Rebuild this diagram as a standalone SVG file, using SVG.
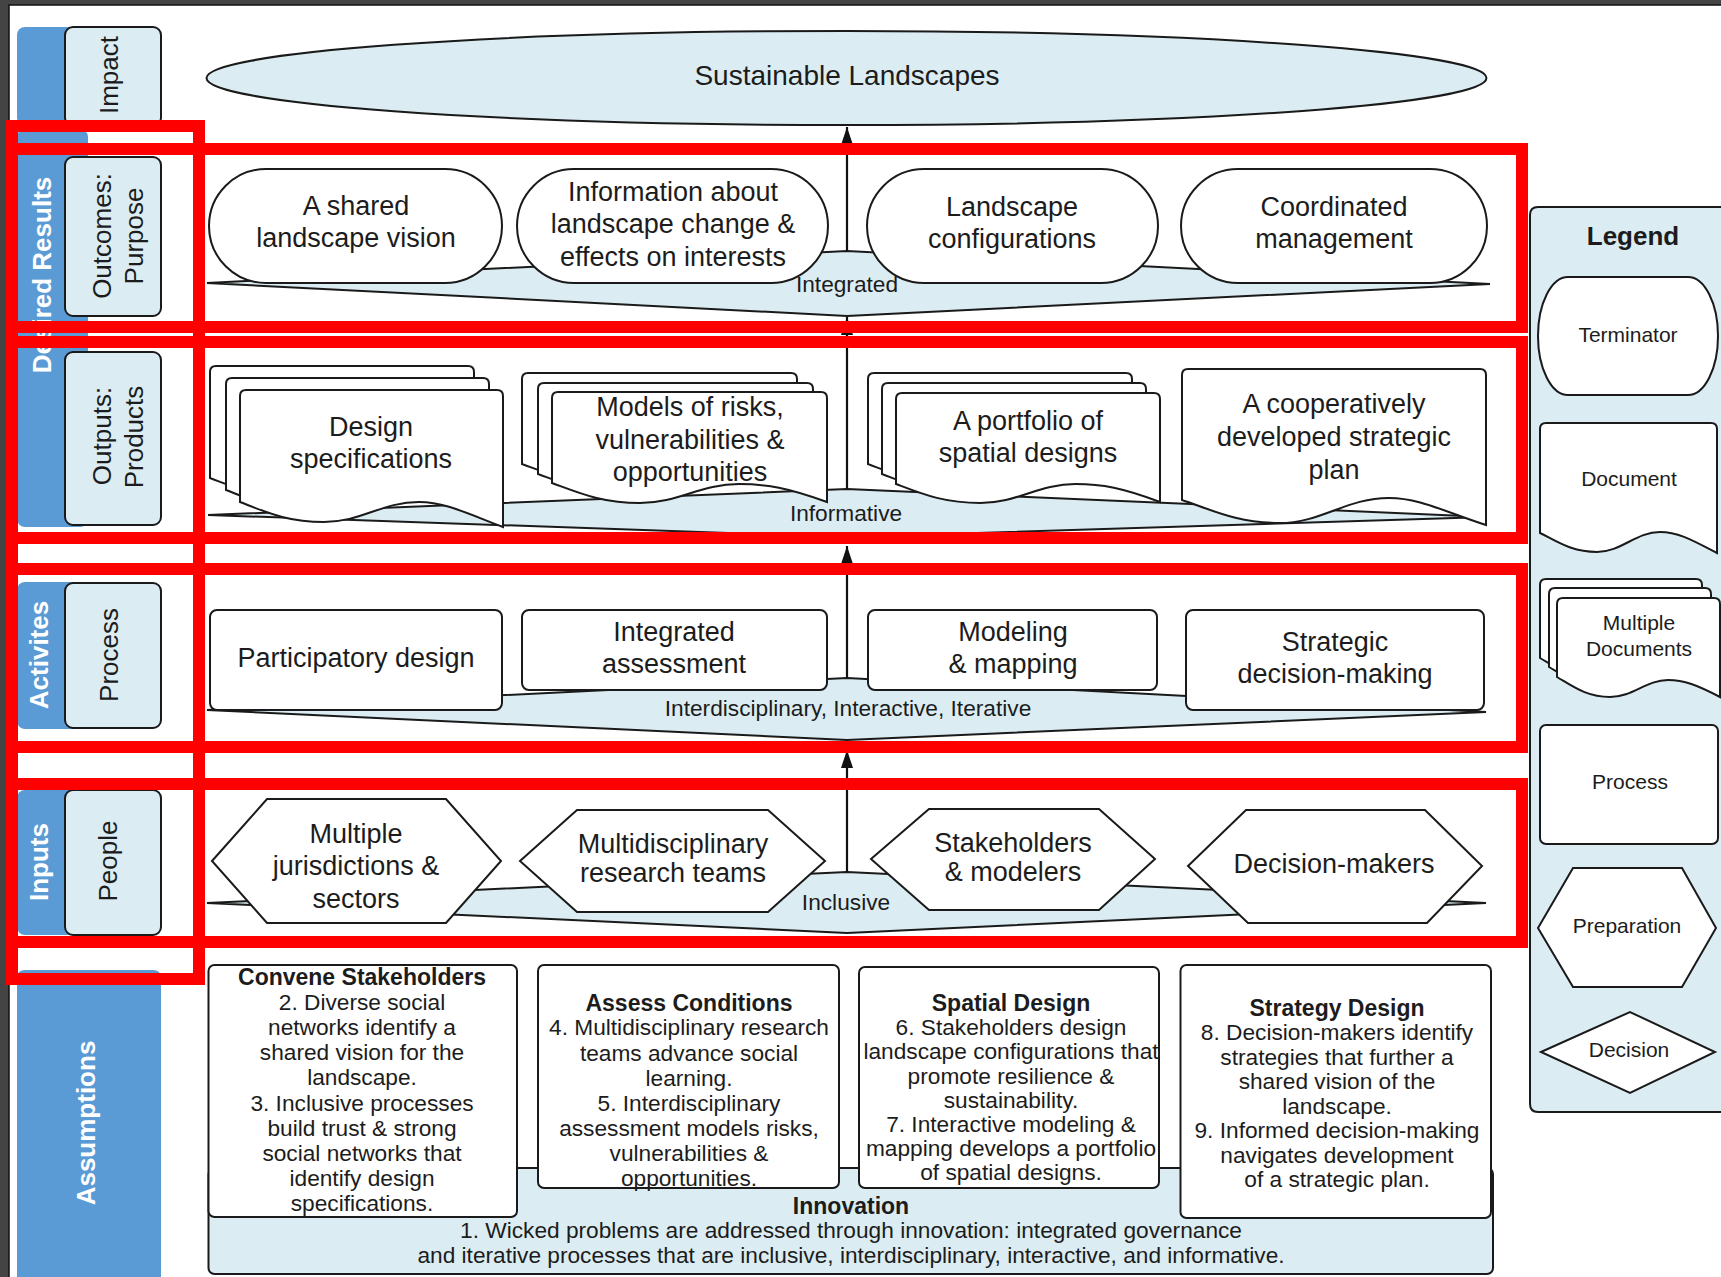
<svg xmlns="http://www.w3.org/2000/svg" width="1721" height="1277" viewBox="0 0 1721 1277">
<style>
text{font-family:"Liberation Sans",Arial,sans-serif;fill:#1c1c1c;text-anchor:middle}
.n{font-size:27px}
.b{font-size:22.7px}
.bb{font-size:23px;font-weight:bold}
.lg{font-size:21px}
.side{font-size:26px}
.sw{font-size:26px;font-weight:bold;fill:#ffffff}
.shape{fill:#ffffff;stroke:#1a1a1a;stroke-width:2}
.lb{fill:#dbedf3;stroke:#1a1a1a;stroke-width:2}
.lane{fill:#5b9bd5}
.band{fill:#dbedf3;stroke:#1a1a1a;stroke-width:2;stroke-linejoin:miter}
.con{stroke:#111;stroke-width:2.2;fill:none}
.red{fill:none;stroke:#ff0000;stroke-width:12}
</style>
<defs>
<marker id="arr" viewBox="0 0 18 12" refX="18" refY="6" markerWidth="18" markerHeight="12" markerUnits="userSpaceOnUse" orient="auto">
<path d="M0,0 L18,6 L0,12 Z" fill="#111"/>
</marker>
</defs>

<rect x="0" y="0" width="1721" height="1277" fill="#444"/>
<rect x="9" y="5" width="1714" height="1274" fill="#ffffff" stroke="#111" stroke-width="1.5"/>

<!-- lanes -->
<g id="lane-impact">
<rect class="lane" x="17" y="27" width="71" height="99" rx="8"/>
<rect class="lb" x="65" y="27" width="96" height="99" rx="8"/>
<text class="side" transform="translate(118,75) rotate(-90)">Impact</text>
</g>
<g id="lane-desired">
<rect class="lane" x="17" y="129" width="71" height="398" rx="8"/>
<text class="sw" transform="translate(51,275) rotate(-90)">Desired Results</text>
<rect class="lb" x="65" y="157" width="96" height="159" rx="8"/>
<text class="side" transform="translate(111,236) rotate(-90)">Outcomes:</text>
<text class="side" transform="translate(143,236) rotate(-90)">Purpose</text>
<rect class="lb" x="65" y="352" width="96" height="173" rx="8"/>
<text class="side" transform="translate(111,436) rotate(-90)">Outputs:</text>
<text class="side" transform="translate(143,437) rotate(-90)">Products</text>
</g>
<g id="lane-activities">
<rect class="lane" x="17" y="582" width="71" height="147" rx="8"/>
<text class="sw" transform="translate(48,655) rotate(-90)">Activites</text>
<rect class="lb" x="65" y="583" width="96" height="145" rx="8"/>
<text class="side" transform="translate(118,655) rotate(-90)">Process</text>
</g>
<g id="lane-inputs">
<rect class="lane" x="17" y="790" width="71" height="145" rx="8"/>
<text class="sw" transform="translate(48,862) rotate(-90)">Inputs</text>
<rect class="lb" x="65" y="790" width="96" height="145" rx="8"/>
<text class="side" transform="translate(117,861) rotate(-90)">People</text>
</g>
<g id="lane-assumptions">
<path class="lane" d="M17,1285 L17,978 Q17,970 25,970 L153,970 Q161,970 161,978 L161,1285 Z"/>
<text class="sw" transform="translate(95,1123) rotate(-90)">Assumptions</text>
</g>

<!-- impact -->
<g id="impact">
<ellipse class="lb" cx="846.5" cy="78" rx="640" ry="47"/>
<text class="n" style="font-size:28px" x="847" y="85">Sustainable Landscapes</text>
</g>

<!-- bands -->
<g id="bands">
<path class="band" d="M207,283 L847,251 L1490,284 L847,316 Z"/>
<path class="band" d="M208,515 L847,489 L1487,517 L847,537 Z"/>
<path class="band" d="M207,710 L847,678 L1486,712 L847,740 Z"/>
<path class="band" d="M207,903 L847,872 L1486,903 L847,933 Z"/>
</g>

<!-- connectors -->
<g id="connectors">
<line class="con" x1="847" y1="251" x2="847" y2="127" marker-end="url(#arr)"/>
<line class="con" x1="847" y1="489" x2="847" y2="317" marker-end="url(#arr)"/>
<line class="con" x1="847" y1="678" x2="847" y2="546" marker-end="url(#arr)"/>
<line class="con" x1="847" y1="872" x2="847" y2="750" marker-end="url(#arr)"/>
</g>

<!-- outcomes row -->
<g id="out-vision">
<rect class="shape" x="209" y="169" width="293" height="114" rx="57"/>
<text class="n" x="356" y="214.5">A shared</text>
<text class="n" x="356" y="246.5">landscape vision</text>
</g>
<g id="out-information">
<rect class="shape" x="517" y="169" width="311" height="114" rx="57"/>
<text class="n" x="673" y="200.5">Information about</text>
<text class="n" x="673" y="233">landscape change &amp;</text>
<text class="n" x="673" y="265.5">effects on interests</text>
</g>
<g id="out-configurations">
<rect class="shape" x="867" y="169" width="291" height="114" rx="57"/>
<text class="n" x="1012" y="215.5">Landscape</text>
<text class="n" x="1012" y="247.5">configurations</text>
</g>
<g id="out-management">
<rect class="shape" x="1181" y="169" width="306" height="114" rx="57"/>
<text class="n" x="1334" y="215.5">Coordinated</text>
<text class="n" x="1334" y="247.5">management</text>
</g>
<text class="b" x="847" y="292">Integrated</text>

<!-- outputs row -->
<g id="prod-design">
<path class="shape" d="M210,478 L210,372 Q210,366 216,366 L468,366 Q474,366 474,372 L474,503 C437,489 416,478 389.5,478 C352.6,478 331.4,498 294.5,498 C257.5,498 236.4,488 210,478 Z"/>
<path class="shape" d="M226,490 L226,384 Q226,378 232,378 L483,378 Q489,378 489,384 L489,515 C452,501 431,490 405,490 C368,490 347,510 310,510 C273,510 252,500 226,490 Z"/>
<path class="shape" d="M240,502 L240,396 Q240,390 246,390 L497,390 Q503,390 503,396 L503,527 C466,513 445,502 419,502 C382,502 361,522 324,522 C287,522 266,512 240,502 Z"/>
<text class="n" x="371" y="436">Design</text>
<text class="n" x="371" y="468">specifications</text>
</g>
<g id="prod-models">
<path class="shape" d="M522,464 L522,379 Q522,373 528,373 L791,373 Q797,373 797,379 L797,483 C758.5,469 736.5,465 709,465 C670.5,465 648.5,484 610,484 C571.5,484 549.5,474 522,464 Z"/>
<path class="shape" d="M538,474 L538,389 Q538,383 544,383 L807,383 Q813,383 813,389 L813,493 C774.5,479 752.5,475 725,475 C686.5,475 664.5,494 626,494 C587.5,494 565.5,484 538,474 Z"/>
<path class="shape" d="M552,483 L552,398 Q552,392 558,392 L821,392 Q827,392 827,398 L827,502 C788.5,488 766.5,484 739,484 C700.5,484 678.5,503 640,503 C601.5,503 579.5,493 552,483 Z"/>
<text class="n" x="690" y="415.5">Models of risks,</text>
<text class="n" x="690" y="448.5">vulnerabilities &amp;</text>
<text class="n" x="690" y="480.5">opportunities</text>
</g>
<g id="prod-portfolio">
<path class="shape" d="M868,464 L868,379 Q868,373 874,373 L1126,373 Q1132,373 1132,379 L1132,483 C1095,469 1074,465 1047.5,465 C1010.6,465 989.4,484 952.5,484 C915.5,484 894.4,474 868,464 Z"/>
<path class="shape" d="M882,474 L882,389 Q882,383 888,383 L1140,383 Q1146,383 1146,389 L1146,493 C1109,479 1088,475 1061.5,475 C1024.6,475 1003.4,494 966.5,494 C929.5,494 908.4,484 882,474 Z"/>
<path class="shape" d="M896,484 L896,399 Q896,393 902,393 L1154,393 Q1160,393 1160,399 L1160,502 C1123,488 1102,484 1075.5,484 C1038.6,484 1017.4,503 980.5,503 C943.5,503 922.4,494 896,484 Z"/>
<text class="n" x="1028" y="429.5">A portfolio of</text>
<text class="n" x="1028" y="461.5">spatial designs</text>
</g>
<g id="prod-plan">
<path class="shape" d="M1182,500 L1182,375 Q1182,369 1188,369 L1480,369 Q1486,369 1486,375 L1486,525 C1443,511 1419,498 1389,498 C1346,498 1322,523 1279,523 C1237,523 1212,510 1182,500 Z"/>
<text class="n" x="1334" y="413">A cooperatively</text>
<text class="n" x="1334" y="446">developed strategic</text>
<text class="n" x="1334" y="479">plan</text>
</g>
<text class="b" x="846" y="521">Informative</text>

<!-- process row -->
<g id="proc-participatory">
<rect class="shape" x="210" y="610" width="292" height="100" rx="7"/>
<text class="n" x="356" y="666.5">Participatory design</text>
</g>
<g id="proc-assessment">
<rect class="shape" x="522" y="610" width="305" height="80" rx="7"/>
<text class="n" x="674" y="640.5">Integrated</text>
<text class="n" x="674" y="672.5">assessment</text>
</g>
<g id="proc-modeling">
<rect class="shape" x="868" y="610" width="289" height="80" rx="7"/>
<text class="n" x="1013" y="640.5">Modeling</text>
<text class="n" x="1013" y="672.5">&amp; mapping</text>
</g>
<g id="proc-strategic">
<rect class="shape" x="1186" y="610" width="298" height="100" rx="7"/>
<text class="n" x="1335" y="650.5">Strategic</text>
<text class="n" x="1335" y="682.5">decision-making</text>
</g>
<text class="b" x="848" y="716">Interdisciplinary, Interactive, Iterative</text>

<!-- people row -->
<g id="in-jurisdictions">
<path class="shape" d="M212,861 L267,799 L446,799 L501,861 L446,923 L267,923 Z"/>
<text class="n" x="356" y="842.5">Multiple</text>
<text class="n" x="356" y="874.5">jurisdictions &amp;</text>
<text class="n" x="356" y="907.5">sectors</text>
</g>
<g id="in-research">
<path class="shape" d="M520,861 L577,810 L768,810 L825,861 L768,912 L577,912 Z"/>
<text class="n" x="673" y="852.5">Multidisciplinary</text>
<text class="n" x="673" y="882">research teams</text>
</g>
<g id="in-stakeholders">
<path class="shape" d="M871,859 L929,809 L1099,809 L1155,859 L1099,910 L929,910 Z"/>
<text class="n" x="1013" y="851.5">Stakeholders</text>
<text class="n" x="1013" y="881">&amp; modelers</text>
</g>
<g id="in-decision-makers">
<path class="shape" d="M1188,866 L1246,810 L1425,810 L1482,866 L1427,923 L1248,923 Z"/>
<text class="n" x="1334" y="873">Decision-makers</text>
</g>
<text class="b" x="846" y="910">Inclusive</text>

<!-- assumptions -->
<g id="innovation">
<rect class="lb" x="208.5" y="1168" width="1284.5" height="106" rx="6"/>
<text class="bb" x="851" y="1214">Innovation</text>
<text class="b" x="851" y="1238">1. Wicked problems are addressed through innovation: integrated governance</text>
<text class="b" x="851" y="1263">and iterative processes that are inclusive, interdisciplinary, interactive, and informative.</text>
</g>
<g id="as-convene">
<rect class="shape" x="208.5" y="965" width="308.5" height="252" rx="6"/>
<text class="bb" x="362" y="985">Convene Stakeholders</text>
<text class="b" x="362" y="1010">2. Diverse social</text>
<text class="b" x="362" y="1035">networks identify a</text>
<text class="b" x="362" y="1060">shared vision for the</text>
<text class="b" x="362" y="1085">landscape.</text>
<text class="b" x="362" y="1111">3. Inclusive processes</text>
<text class="b" x="362" y="1136">build trust &amp; strong</text>
<text class="b" x="362" y="1161">social networks that</text>
<text class="b" x="362" y="1186">identify design</text>
<text class="b" x="362" y="1211">specifications.</text>
</g>
<g id="as-assess">
<rect class="shape" x="538" y="965" width="301" height="223" rx="6"/>
<text class="bb" x="689" y="1011">Assess Conditions</text>
<text class="b" x="689" y="1035">4. Multidisciplinary research</text>
<text class="b" x="689" y="1061">teams advance social</text>
<text class="b" x="689" y="1086">learning.</text>
<text class="b" x="689" y="1111">5. Interdisciplinary</text>
<text class="b" x="689" y="1136">assessment models risks,</text>
<text class="b" x="689" y="1161">vulnerabilities &amp;</text>
<text class="b" x="689" y="1186">opportunities.</text>
</g>
<g id="as-spatial">
<rect class="shape" x="859" y="967" width="300" height="221" rx="6"/>
<text class="bb" x="1011" y="1011">Spatial Design</text>
<text class="b" x="1011" y="1035">6. Stakeholders design</text>
<text class="b" x="1011" y="1059">landscape configurations that</text>
<text class="b" x="1011" y="1084">promote resilience &amp;</text>
<text class="b" x="1011" y="1108">sustainability.</text>
<text class="b" x="1011" y="1132">7. Interactive modeling &amp;</text>
<text class="b" x="1011" y="1156">mapping develops a portfolio</text>
<text class="b" x="1011" y="1180">of spatial designs.</text>
</g>
<g id="as-strategy">
<rect class="shape" x="1180.5" y="965" width="310.5" height="253" rx="6"/>
<text class="bb" x="1337" y="1016">Strategy Design</text>
<text class="b" x="1337" y="1040">8. Decision-makers identify</text>
<text class="b" x="1337" y="1065">strategies that further a</text>
<text class="b" x="1337" y="1089">shared vision of the</text>
<text class="b" x="1337" y="1114">landscape.</text>
<text class="b" x="1337" y="1138">9. Informed decision-making</text>
<text class="b" x="1337" y="1163">navigates development</text>
<text class="b" x="1337" y="1187">of a strategic plan.</text>
</g>

<!-- legend -->
<g id="legend">
<path class="lb" d="M1740,207 L1538,207 Q1530,207 1530,215 L1530,1104 Q1530,1112 1538,1112 L1740,1112"/>
<text x="1633" y="245" style="font-size:26px;font-weight:bold">Legend</text>
<g id="lg-terminator">
<rect class="shape" x="1538" y="277" width="180" height="118" rx="30" ry="59"/>
<text class="lg" x="1628" y="341.5">Terminator</text>
</g>
<g id="lg-document">
<path class="shape" d="M1540,533 L1540,429 Q1540,423 1546,423 L1711,423 Q1717,423 1717,429 L1717,553 C1692,540 1678,532 1660,532 C1636,532 1621,552 1597,552 C1572,552 1558,542 1540,533 Z"/>
<text class="lg" x="1629" y="486">Document</text>
</g>
<g id="lg-multi">
<path class="shape" d="M1540,658 L1540,585 Q1540,579 1546,579 L1696,579 Q1702,579 1702,585 L1702,677 C1679,665 1666,660 1650,660 C1628,660 1615,677 1592,677 C1569,677 1556,667 1540,658 Z"/>
<path class="shape" d="M1549,667 L1549,594 Q1549,588 1555,588 L1705,588 Q1711,588 1711,594 L1711,686 C1688,674 1675,669 1659,669 C1637,669 1624,686 1601,686 C1578,686 1565,676 1549,667 Z"/>
<path class="shape" d="M1557,677 L1557,604 Q1557,598 1563,598 L1714,598 Q1720,598 1720,604 L1720,697 C1697,685 1684,680 1668,680 C1646,680 1633,697 1610,697 C1587,697 1574,687 1557,677 Z"/>
<text class="lg" x="1639" y="629.5">Multiple</text>
<text class="lg" x="1639" y="656">Documents</text>
</g>
<g id="lg-process">
<rect class="shape" x="1540" y="725" width="178" height="119" rx="6"/>
<text class="lg" x="1630" y="789">Process</text>
</g>
<g id="lg-preparation">
<path class="shape" d="M1538,928 L1573,868 L1682,868 L1716,928 L1682,987 L1573,987 Z"/>
<text class="lg" x="1627" y="932.5">Preparation</text>
</g>
<g id="lg-decision">
<path class="shape" d="M1541,1052 L1630,1012 L1715,1052 L1630,1093 Z"/>
<text class="lg" x="1629" y="1056.5">Decision</text>
</g>
</g>

<!-- red highlight rectangles -->
<g id="highlights">
<rect class="red" x="12" y="126" width="187" height="853"/>
<rect class="red" x="12" y="149" width="1510" height="178"/>
<rect class="red" x="12" y="342" width="1510" height="196"/>
<rect class="red" x="12" y="569" width="1510" height="178"/>
<rect class="red" x="12" y="784" width="1510" height="158"/>
</g>
</svg>
